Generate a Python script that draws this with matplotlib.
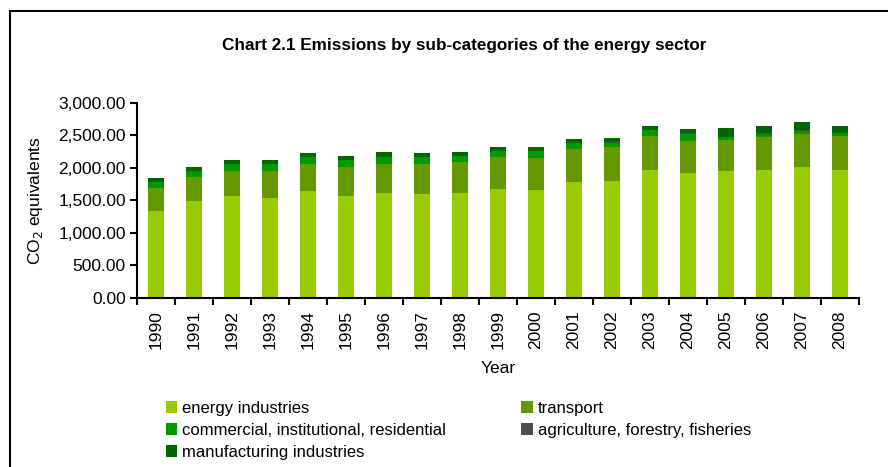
import numpy as np
import matplotlib
matplotlib.use("Agg")
import matplotlib.pyplot as plt
from matplotlib.lines import Line2D

plt.rcParams['font.family'] = ['Liberation Sans', 'DejaVu Sans']

years = [str(y) for y in range(1990, 2009)]
energy = [1330, 1483, 1560, 1529, 1636, 1560, 1606, 1590, 1606, 1667,
          1652, 1775, 1790, 1965, 1919, 1949, 1965, 2011, 1965]
transport = [354, 369, 384, 415, 416, 446, 446, 462, 477, 493,
             492, 508, 530, 523, 492, 478, 508, 508, 523]
commercial = [92, 92, 108, 108, 108, 108, 108, 108, 92, 92,
              108, 92, 66, 92, 108, 46, 46, 46, 46]
agriculture = [4, 4, 4, 4, 4, 4, 4, 4, 4, 4,
               4, 5, 15, 5, 15, 5, 15, 12, 5]
manufacturing = [62, 62, 62, 62, 61, 61, 73, 57, 57, 58,
                 58, 63, 57, 57, 57, 133, 103, 124, 108]

series = [
    ("energy industries", energy, "#99cc00"),
    ("transport", transport, "#669900"),
    ("commercial, institutional, residential", commercial, "#009900"),
    ("agriculture, forestry, fisheries", agriculture, "#4d4d4d"),
    ("manufacturing industries", manufacturing, "#006600"),
]

fig = plt.figure(figsize=(8.88, 4.67), dpi=100)
ax = fig.add_axes([0.1543, 0.362, 0.813, 0.418])

x = np.arange(len(years))
bottom = np.zeros(len(years))
bars = {}
for name, vals, col in series:
    bars[name] = ax.bar(x, vals, width=0.42, bottom=bottom, color=col, label=name)
    bottom += np.array(vals)

ax.set_xlim(-0.5, len(years) - 0.5)
ax.set_ylim(0, 3000)
ax.set_yticks(np.arange(0, 3001, 500))
ax.set_yticklabels([f"{v:,.2f}" for v in np.arange(0, 3001, 500)], fontsize=12.5)
ax.set_xticks(x)
ax.set_xticklabels(years, rotation=90, fontsize=12.5)
ax.set_xticks(np.arange(-0.5, len(years)), minor=True)
ax.tick_params(axis='x', which='major', length=0, pad=9)
ax.tick_params(axis='x', which='minor', length=5, width=1.5, direction='out')
ax.tick_params(axis='y', length=5, width=1.5, direction='out', pad=3)

for s in ['top', 'right']:
    ax.spines[s].set_visible(False)
for s in ['left', 'bottom']:
    ax.spines[s].set_linewidth(1.5)

ax.set_ylabel("CO$_2$ equivalents", fontsize=12.5, va='center')
ax.yaxis.set_label_coords(-0.141, 0.5)
ax.set_xlabel("Year", fontsize=12.5, va='center')
ax.xaxis.set_label_coords(0.5, -0.36)

fig.text(0.5225, 0.903, "Chart 2.1 Emissions by sub-categories of the energy sector",
         ha='center', va='center', fontsize=12.3, fontweight='bold')

order = ["energy industries", "commercial, institutional, residential",
         "manufacturing industries", "transport", "agriculture, forestry, fisheries"]
handles = [bars[n] for n in order]
fig.legend(handles, order, loc='upper left', bbox_to_anchor=(0.177, 0.16),
           ncol=2, frameon=False, fontsize=12, handlelength=0.7, handleheight=0.7,
           handletextpad=0.3, labelspacing=0.42, columnspacing=4.5, borderpad=0)

# partial frame around the chart
fig.add_artist(Line2D([0.0113, 1.0], [0.977, 0.977], color='black', lw=1.5,
                      transform=fig.transFigure))
fig.add_artist(Line2D([0.0113, 0.0113], [0.0, 0.977], color='black', lw=1.5,
                      transform=fig.transFigure))

fig.savefig("out.png", dpi=100)
